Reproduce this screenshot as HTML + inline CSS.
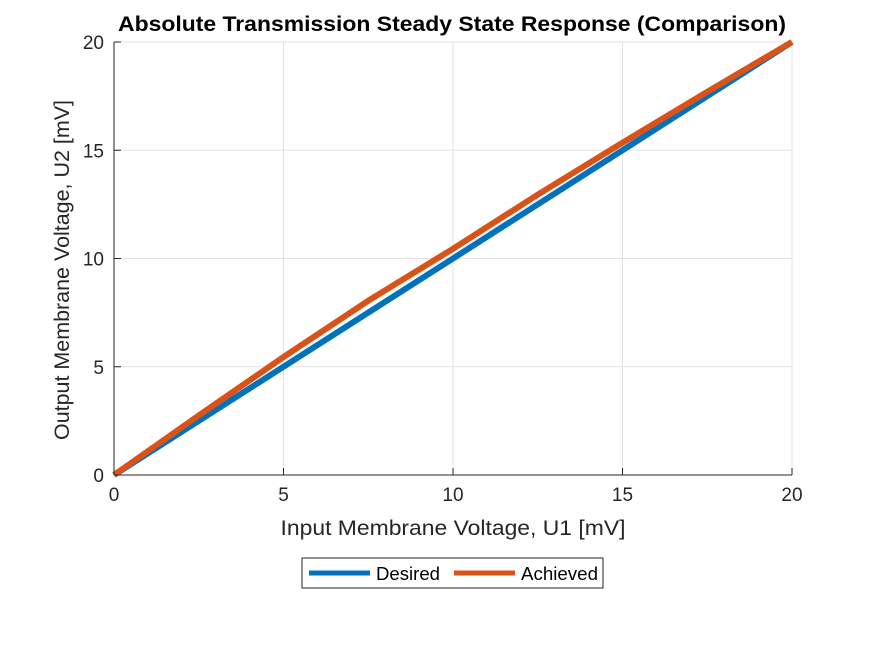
<!DOCTYPE html>
<html><head><meta charset="utf-8"><style>
body{margin:0;background:#fff;}
svg{display:block;font-family:"Liberation Sans",Arial,sans-serif;}
</style></head><body>
<svg id="chart" width="875" height="656">
<rect width="875" height="656" fill="#fff"/>
<g id="grid"></g>
<g id="series"></g>
<line x1="114" y1="42" x2="114" y2="475" stroke="#262626" stroke-width="1"/>
<line x1="114" y1="475" x2="792" y2="475" stroke="#262626" stroke-width="1"/>
<g id="ticks"></g>
<text x="452" y="31" text-anchor="middle" font-size="21" font-weight="bold" fill="#000" textLength="668" lengthAdjust="spacingAndGlyphs">Absolute Transmission Steady State Response (Comparison)</text>
<text x="453" y="535" text-anchor="middle" font-size="21" fill="#262626" textLength="345" lengthAdjust="spacingAndGlyphs">Input Membrane Voltage, U1 [mV]</text>
<text transform="translate(69,270) rotate(-90)" text-anchor="middle" font-size="21" fill="#262626" textLength="340" lengthAdjust="spacingAndGlyphs">Output Membrane Voltage, U2 [mV]</text>
<g>
<rect x="302" y="558" width="301" height="30" fill="#fff" stroke="#262626" stroke-width="1"/>
<line x1="309" y1="573" x2="370" y2="573" stroke="#0072BD" stroke-width="5"/>
<text x="376" y="580" font-size="18" fill="#000" textLength="64" lengthAdjust="spacingAndGlyphs">Desired</text>
<line x1="454" y1="573" x2="515" y2="573" stroke="#D95319" stroke-width="5"/>
<text x="521" y="580" font-size="18" fill="#000" textLength="77" lengthAdjust="spacingAndGlyphs">Achieved</text>
</g>
</svg>
<script>
const xTicks=[0,5,10,15,20];
const yTicks=[0,5,10,15,20];
const desiredX=[0,20];
const desiredY=[0,20];
const achievedX=[0,2.5,5,7.5,10,12.5,15,17.5,20];
const achievedY=[0,2.75,5.45,8.05,10.45,12.95,15.35,17.7,20];
const NS="http://www.w3.org/2000/svg";
const sx=v=>114+v/20*678, sy=v=>475-v/20*433;
const grid=document.getElementById('grid'),ticks=document.getElementById('ticks'),series=document.getElementById('series');
function mk(t,a,p){const e=document.createElementNS(NS,t);for(const k in a)e.setAttribute(k,a[k]);p.appendChild(e);return e;}
xTicks.forEach(v=>{
 const g=mk('line',{x1:sx(v),x2:sx(v),y1:42,y2:475,stroke:'#e3e3e3','stroke-width':1},grid);
 
 
 const m=mk('line',{x1:sx(v),x2:sx(v),y1:475,y2:468,stroke:'#262626','stroke-width':1},ticks);
 
 
 const t=mk('text',{x:sx(v),y:501,'text-anchor':'middle','font-size':19,fill:'#262626'},ticks);t.textContent=v;
 
 
});
yTicks.forEach(v=>{
 const g=mk('line',{x1:114,x2:792,y1:sy(v),y2:sy(v),stroke:'#e3e3e3','stroke-width':1},grid);
 
 
 const m=mk('line',{x1:114,x2:121,y1:sy(v),y2:sy(v),stroke:'#262626','stroke-width':1},ticks);
 
 
 const t=mk('text',{x:104,y:sy(v)+7,'text-anchor':'end','font-size':19,fill:'#262626'},ticks);t.textContent=v;
 
 
});
const d=mk('polyline',{points:desiredX.map((x,i)=>sx(x)+','+sy(desiredY[i])).join(' '),fill:'none',stroke:'#0072BD','stroke-width':6},series);


const a=mk('polyline',{points:achievedX.map((x,i)=>sx(x)+','+sy(achievedY[i])).join(' '),fill:'none',stroke:'#D95319','stroke-width':6,'stroke-linejoin':'round'},series);


</script>
</body></html>
